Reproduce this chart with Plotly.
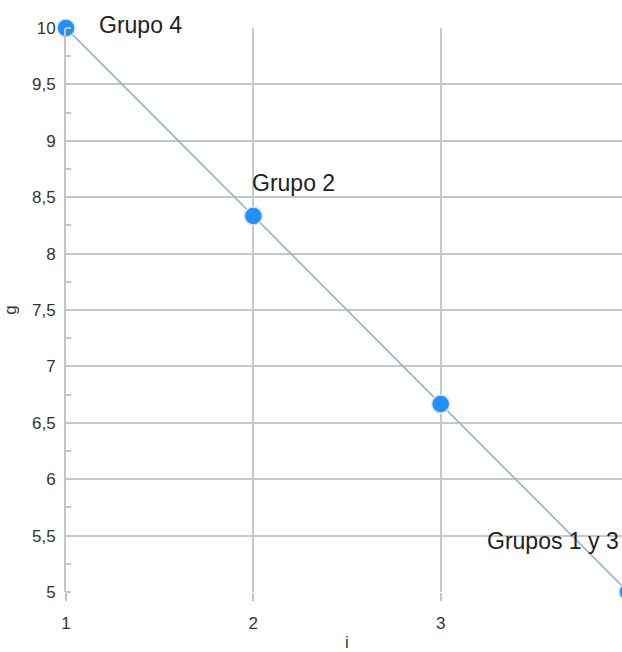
import plotly.graph_objects as go

x_vals = [1, 2, 3, 4]
y_vals = [10, 25/3, 20/3, 5]
labels = ["Grupo 4", "Grupo 2", "", "Grupos 1 y 3"]
y_ticks = [5, 5.5, 6, 6.5, 7, 7.5, 8, 8.5, 9, 9.5, 10]
x_ticks = [1, 2, 3, 4]

FONT = "Liberation Sans, Arial, sans-serif"

fig = go.Figure()
fig.add_trace(go.Scatter(
    x=x_vals, y=y_vals, mode="lines+markers",
    line=dict(color="#8FB2CC", width=1.6),
    marker=dict(size=18, color="#1E90FF", line=dict(color="#E0E0E0", width=1.5)),
    cliponaxis=False, showlegend=False, hoverinfo="skip",
))

ann_style = [
    dict(xanchor="left", xshift=31, yshift=3),
    dict(xanchor="left", xshift=-3, yshift=33),
    None,
    dict(xanchor="right", xshift=-7, yshift=51),
]
for xv, yv, t, st in zip(x_vals, y_vals, labels, ann_style):
    if not t:
        continue
    fig.add_annotation(x=xv, y=yv, xref="x", yref="y", text=t, showarrow=False,
                       yanchor="middle", font=dict(family=FONT, size=23, color="#222222"),
                       **st)

# the chart is slightly wider than the 622px window; its right edge is cut off
fig.update_layout(
    width=628, height=652,
    margin=dict(l=66, r=0, t=28, b=60),
    plot_bgcolor="white", paper_bgcolor="white",
    separators=", ",
    font=dict(family=FONT, size=17, color="#333333"),
)
fig.update_xaxes(
    range=[1, 4], tickvals=x_ticks, ticks="outside", ticklen=8, tickwidth=2,
    tickcolor="#C4C4C4", showgrid=True, gridcolor="#C8C8C8", gridwidth=2,
    zeroline=False, showline=False, ticklabelstandoff=8, automargin=False,
    title=dict(text="i", font=dict(size=17), standoff=12),
    tickfont=dict(size=17),
)
fig.update_yaxes(
    range=[5, 10], tickvals=y_ticks, ticks="", showgrid=True, gridcolor="#C8C8C8",
    gridwidth=2, zeroline=False, showline=True, linecolor="#C4C4C4", linewidth=2,
    ticklabelstandoff=5, automargin=False,
    title=dict(text="g", font=dict(size=17), standoff=11),
    tickfont=dict(size=17),
    minor=dict(dtick=0.25, ticks="inside", ticklen=5, tickcolor="#C4C4C4", tickwidth=1.5, showgrid=False),
)

fig.write_html(
    "out.html",
    config={"displayModeBar": False},
    post_script="document.body.style.margin='0';document.body.style.overflow='hidden';",
)
